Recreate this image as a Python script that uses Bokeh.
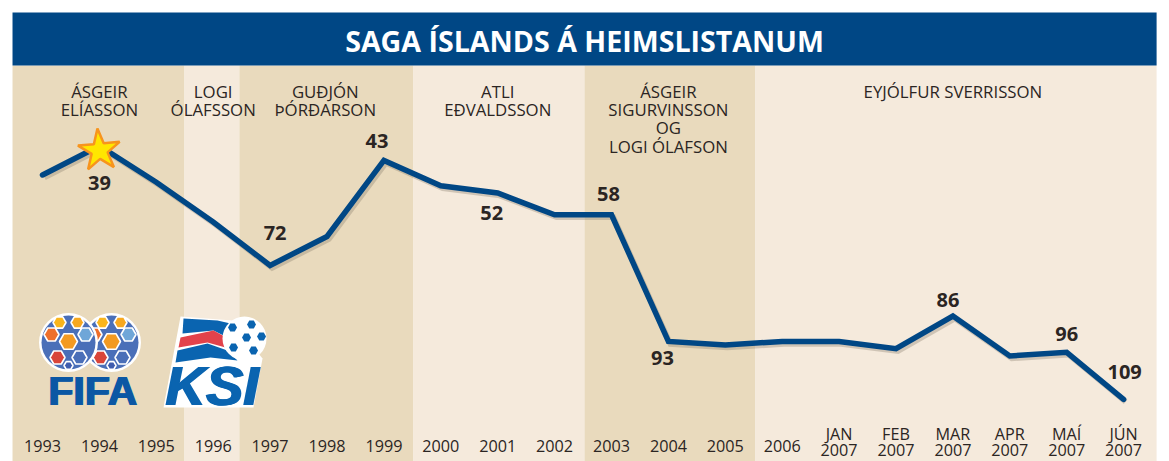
from bokeh.plotting import figure
from bokeh.models import Range1d
from bokeh.core.properties import value
from bokeh.embed import file_html
from bokeh.resources import INLINE

title = "SAGA ÍSLANDS Á HEIMSLISTANUM"
periods = ["1993", "1994", "1995", "1996", "1997", "1998", "1999", "2000", "2001", "2002",
           "2003", "2004", "2005", "2006", "JAN\n2007", "FEB\n2007", "MAR\n2007", "APR\n2007",
           "MAÍ\n2007", "JÚN\n2007"]
ranks = [47, 39, 49, 60, 72, 64, 43, 50, 52, 58, 58, 93, 94, 93, 93, 95, 86, 97, 96, 109]
labelled_index = [1, 4, 6, 8, 10, 11, 16, 18, 19]
coaches = ["ÁSGEIR\nELÍASSON", "LOGI\nÓLAFSSON", "GUÐJÓN\nÞÓRÐARSON", "ATLI\nEÐVALDSSON",
           "ÁSGEIR\nSIGURVINSSON\nOG\nLOGI ÓLAFSON", "EYJÓLFUR SVERRISSON"]
coach_from = [-0.527, 2.496, 3.46, 6.52, 9.525, 12.53]
coach_to = [2.496, 3.46, 6.52, 9.525, 12.53, 19.58]
coach_label_x = [1, 3, 4.97, 8, 11, 16]
label_dx = [0, 5, -7, -6, -3, -6, -5, 0, 1]
label_dy = [37, -32, -19, 20, -21, 17, -16, -18, -27]

NAVY = "#004785"
TAN = "#e9dabd"
LIGHT = "#f5eadc"
INK = "#2b2523"
SANS = value("Open Sans")


def X(px):
    return (px - 42) / 56.9


def Y(py):
    return (py - 4.3) / 3.62


p = figure(width=1169, height=461, output_backend="svg", toolbar_location=None,
           x_range=Range1d(X(0), X(1169)), y_range=Range1d(Y(461), Y(0)),
           min_border=0, outline_line_color=None, border_fill_color="white",
           background_fill_color="white", tools="")
p.grid.visible = False
p.axis.visible = False

# bands
band_colors = [TAN if i % 2 == 0 else LIGHT for i in range(len(coaches))]
p.quad(left=coach_from, right=coach_to, top=Y(65), bottom=Y(461),
       fill_color=band_colors, line_color=None)
# banner
p.quad(left=[coach_from[0]], right=[coach_to[-1]], top=Y(12), bottom=Y(65),
       fill_color=NAVY, line_color=None)
p.text(x=[X(584)], y=[Y(39.5)], text=[title], text_font=SANS, text_font_style="bold",
       text_font_size="28.6px", text_color="white", text_align="center", text_baseline="middle")

# FIFA logo (decorative)
for cx, cy in ((111, 342), (68, 342)):
    p.scatter([X(cx)], [Y(cy)], marker="circle", size=59, fill_color="white", line_color=None)
    p.scatter([X(cx)], [Y(cy)], marker="circle", size=54, fill_color="#4a6fb8", line_color=None)
    hx = [(cx, cy - 1, 18, "#f39a22"), (cx - 17, cy - 8, 15, "#ee6f2b"), (cx + 17, cy - 8, 15, "#6fa6d8"),
          (cx - 9, cy - 20, 13, "#f9b51c"), (cx + 9, cy - 20, 13, "#f7a81f"),
          (cx - 11, cy + 15, 15, "#d9453a"), (cx + 11, cy + 15, 15, "#4a6fb8"), (cx, cy + 23, 9, "#3f5cae")]
    p.scatter([X(h[0]) for h in hx], [Y(h[1]) for h in hx], marker="hex", size=[h[2] for h in hx],
              fill_color=[h[3] for h in hx], line_color="white", line_width=1.6)
for dx in (0, 0.9, 1.8):
    p.text(x=[X(47 + dx)], y=[Y(390.5)], text=["FIFA"], text_font=value("Liberation Sans"),
           text_font_style="bold", text_font_size="41px", text_color="#0b57a4",
           text_baseline="middle")

# KSI logo (decorative)
p.patch([X(v) for v in (163, 180, 232, 262, 253)], [Y(v) for v in (407, 316, 320, 358, 407)],
        fill_color="white", line_color=None)
for pts, col in (
    (((183, 318), (217, 320), (230, 323), (227, 337), (213, 330), (182, 333)), "#0a64b0"),
    (((180, 337), (213, 330), (224, 336), (225, 347), (207, 342), (178, 347)), "#e2424b"),
    (((177, 350), (207, 343), (227, 350), (237, 360), (210, 357), (175, 362)), "#0a64b0"),
):
    p.patch([X(a) for a, _ in pts], [Y(b) for _, b in pts], fill_color=col, line_color=None)
p.scatter([X(244)], [Y(338)], marker="circle", size=44, fill_color="white", line_color=None)
bx = [(251, 324), (246, 337), (233, 347), (253, 350), (232, 327), (261, 336)]
p.scatter([X(a) for a, _ in bx], [Y(b) for _, b in bx], marker="hex", size=9,
          fill_color="#0a64b0", line_color=None)
for dx in (0, 1, 2):
    p.text(x=[X(164 + dx)], y=[Y(385)], text=["KSI"], text_font=value("Liberation Sans"),
           text_font_style="bold italic", text_font_size="56px", text_color="#0a64b0",
           text_baseline="middle")

# coach names
p.text(x=coach_label_x, y=[Y(79)] * len(coaches), text=coaches, text_font=SANS,
       text_font_size="16.8px", text_color=INK, text_align="center", text_baseline="top",
       text_line_height=0.8)

# data line with soft shadow
idx = list(range(len(ranks)))
p.line([i + 0.035 for i in idx], [r + 0.7 for r in ranks], line_color="#8a7f6c", line_alpha=0.35,
       line_width=5.5, line_join="miter")
p.line(idx, ranks, line_color=NAVY, line_width=5.5, line_join="miter", line_cap="round")

# star
p.scatter([1], [Y(150)], marker="star", size=44, angle=0.09,
          fill_color="#ffe600", line_color="#f7941d", line_width=2.5)

# value labels
p.text(x=labelled_index, y=[ranks[i] for i in labelled_index],
       text=[str(ranks[i]) for i in labelled_index], x_offset=label_dx, y_offset=label_dy,
       text_font=SANS, text_font_style="bold", text_font_size="20px", text_color=INK,
       text_align="center", text_baseline="middle")

# period labels: months and their year are separate lines of text
single = [i for i in idx if "\n" not in periods[i]]
double = [i for i in idx if "\n" in periods[i]]
for row_y, row_x, row_text in (
    (445.5, single, [periods[i] for i in single]),
    (433.5, double, [periods[i].split("\n")[0] for i in double]),
    (449.5, double, [periods[i].split("\n")[1] for i in double]),
):
    p.text(x=row_x, y=[Y(row_y)] * len(row_x), text=row_text, text_font=SANS,
           text_font_size="16.2px", text_color=INK, text_align="center", text_baseline="middle")

open("out.html", "w").write(file_html(p, INLINE))
